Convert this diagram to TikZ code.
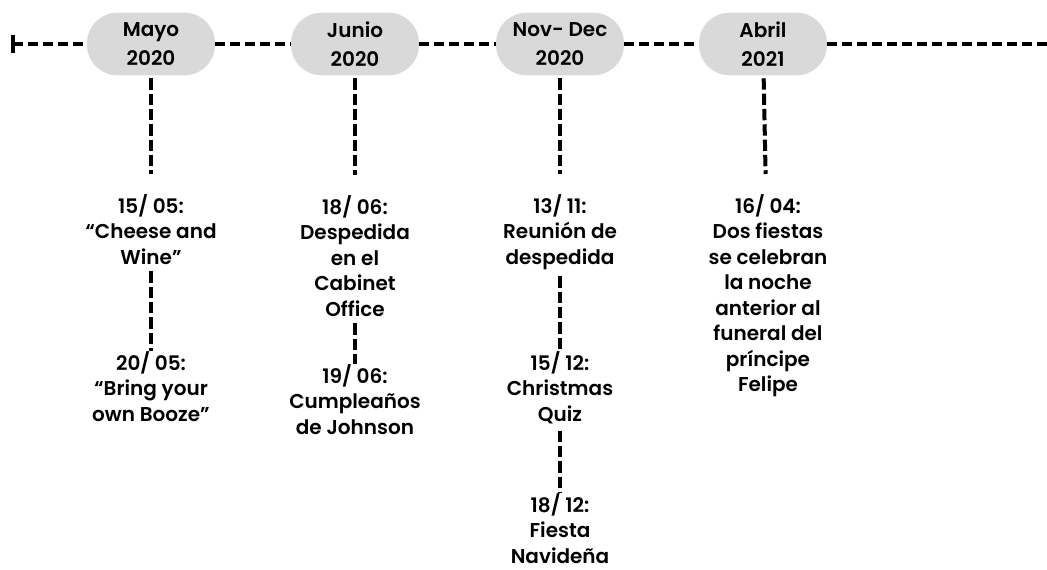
\documentclass[tikz,border=0pt]{standalone}
\usepackage{fontspec}
\setmainfont{Poppins}[BoldFont={Poppins SemiBold}]

\begin{document}
\begin{tikzpicture}[x=0.75pt,y=-0.75pt,
    pill/.style={fill=black!15, rounded corners=23pt, minimum width=96pt, minimum height=47pt,
        inner sep=0pt, align=center, font=\bfseries\fontsize{15}{21.5}\selectfont},
    evento/.style={inner sep=0pt, anchor=north, align=center, font=\bfseries\fontsize{15}{19.1}\selectfont},
    linea/.style={line width=3pt, dash pattern=on 7.5pt off 3.75pt},
    conn/.style={line width=3pt, dash pattern=on 8.5pt off 3pt}]
    \useasboundingbox (0,0) rectangle (1047,569);

    %timeline
    \coordinate (inicio) at (13,44);
    \coordinate (fin) at (1047,44);
    \foreach \nm/\x/\mes/\anio in {mayo/151/Mayo/2020, junio/355/Junio/2020, novdec/560/Nov- Dec/2020, abril/763/Abril/2021}
    {
        \node[pill] (\nm) at (\x,44) {\mes\\\anio};
    }
    \draw[linea] (inicio) -- (mayo);
    \draw[linea] (mayo) -- (junio);
    \draw[linea] (junio) -- (novdec);
    \draw[linea] (novdec) -- (abril);
    \draw[linea] (abril) -- (fin);
    \draw[line width=3pt] ([yshift=7pt]inicio) -- ([yshift=-7pt]inicio);

    %events
    \node[evento] (may1) at (151,194) {15/ 05:\\“Cheese and\\Wine"};
    \node[evento] (may2) at (151,351) {20/ 05:\\“Bring your\\own Booze"};
    \node[evento] (jun1) at (355,195) {18/ 06:\\Despedida\\en el\\Cabinet\\Office};
    \node[evento] (jun2) at (355,364) {19/ 06:\\Cumpleaños\\de Johnson};
    \node[evento] (nov1) at (560,194) {13/ 11:\\Reunión de\\despedida};
    \node[evento] (nov2) at (560,351) {15/ 12:\\Christmas\\Quiz};
    \node[evento] (nov3) at (560,493) {18/ 12:\\Fiesta\\Navideña};
    \node[evento] (abr1) at (768,194) {16/ 04:\\Dos fiestas\\se celebran\\la noche\\anterior al\\funeral del\\príncipe\\Felipe};

    %connectors
    \foreach \a/\b in {mayo/may1, junio/jun1, novdec/nov1, abril/abr1}
    {
        \draw[conn, shorten <=2pt, shorten >=15pt] (\a) -- (\b);
    }
    \foreach \a/\b in {may1/may2, jun1/jun2, nov1/nov2, nov2/nov3}
    {
        \draw[conn, shorten <=5pt, shorten >=0pt] (\a) -- (\b);
    }
\end{tikzpicture}
\end{document}
